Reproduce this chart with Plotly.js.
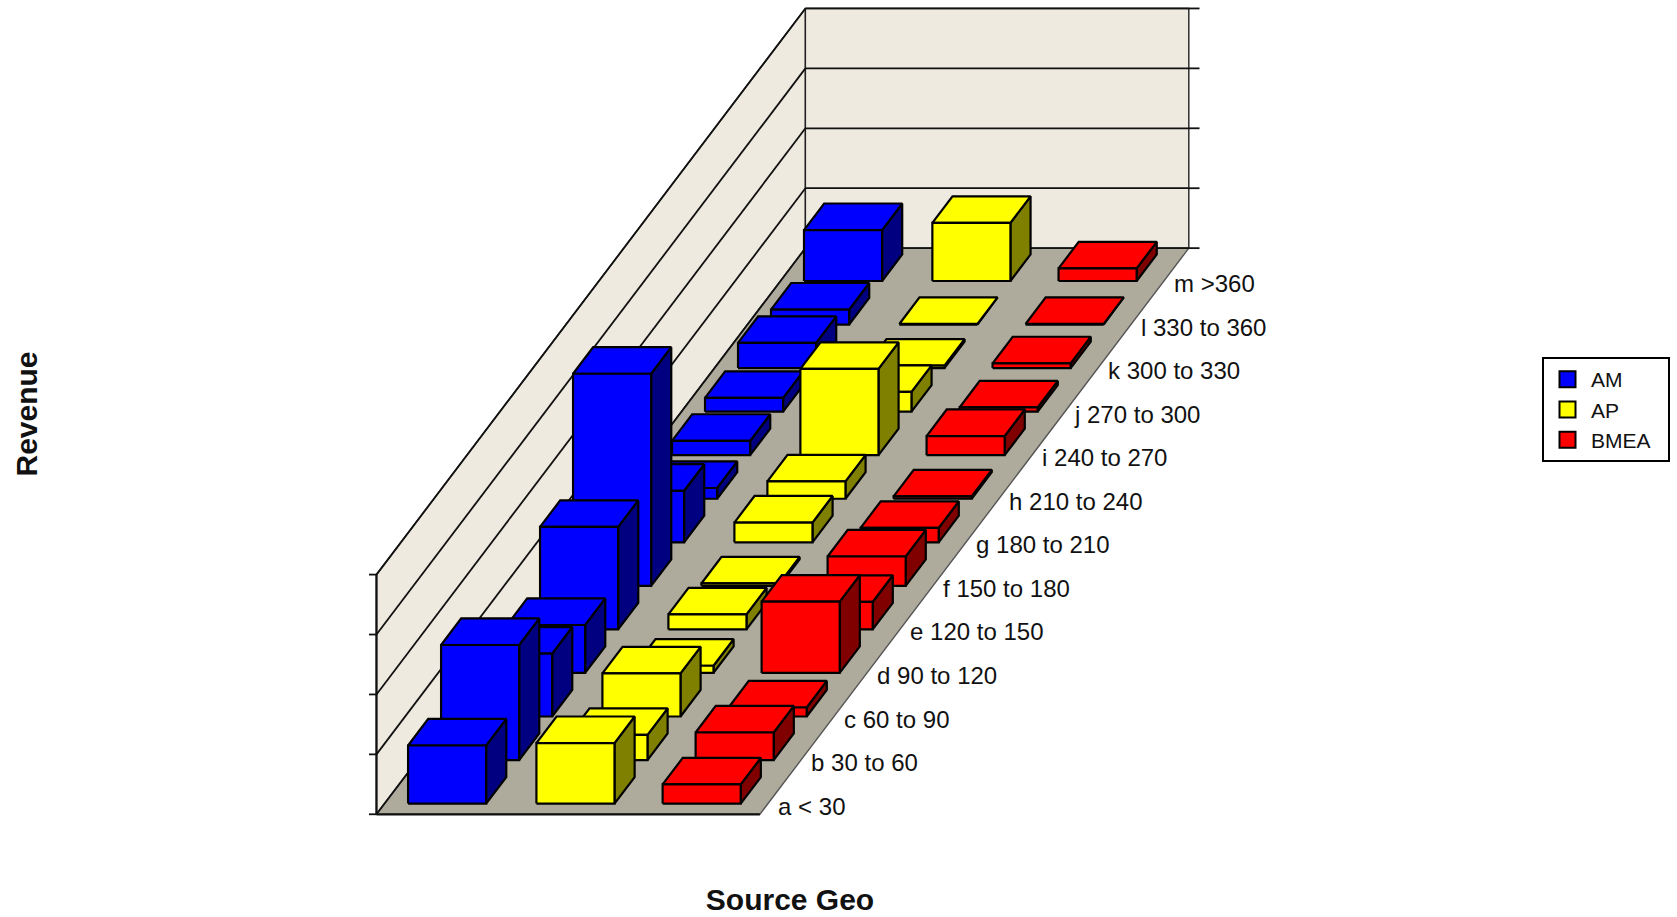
<!DOCTYPE html>
<html><head><meta charset="utf-8">
<script src="https://cdn.plot.ly/plotly-3.0.1.min.js"></script>
<style>html,body{margin:0;padding:0;background:#fff}#c{width:1677px;height:917px}</style>
</head><body><div id="c"></div><script>
const rows = ["a < 30","b 30 to 60","c 60 to 90","d 90 to 120","e 120 to 150","f 150 to 180","g 180 to 210","h 210 to 240","i 240 to 270","j 270 to 300","k 300 to 330","l 330 to 360","m >360"];
const seriesNames = ["AM","AP","BMEA"];
const AM   = [97,192,105,80,171,354,86,18,24,23,42,25,85];
const AP   = [101,42,72,12,25,4,33,29,144,33,4,1,97];
const BMEA = [32,46,15,119,46,49,24,4,32,7,8,1,21];
const gridValues = [0,100,200,300,400];
const frontColors = ["#0000ff","#ffff00","#ff0000"];
const sideColors  = ["#000080","#808000","#800000"];
const values = [AM,AP,BMEA];

// oblique projection of (across, depth-in-rows, value) to pixel-like data units
const S=1677/1568, SY=917/857;
const X0=352, Y0=761, DX=30.85, DY=40.7, HS=0.56, WIDTH=358.5, COL=[22,142,260], BW=73, D0=0.245, BD=0.61;
const P=(u,d,h)=>[(X0+u+d*DX)*S,(Y0-d*DY-h*HS)*SY];
const traces=[];
function poly(pts,fill,lw,lc){
  pts=pts.concat([pts[0]]);
  traces.push({type:'scatter',mode:'lines',x:pts.map(p=>p[0]),y:pts.map(p=>p[1]),fill:'toself',fillcolor:fill,
    line:{color:lc||'#000',width:lw===undefined?2.2:lw,shape:'linear'},hoverinfo:'skip',showlegend:false});
}
function seg(a,b,w,c){
  traces.push({type:'scatter',mode:'lines',x:[a[0],b[0]],y:[a[1],b[1]],line:{color:c||'#111',width:w||1.8},hoverinfo:'skip',showlegend:false});
}
const N=rows.length, maxGrid=gridValues[gridValues.length-1];
// walls and floor
poly([P(0,0,0),P(0,0,maxGrid),P(0,N,maxGrid),P(0,N,0)],'#eeeadf',1.4,'#222');
poly([P(0,N,0),P(0,N,maxGrid),P(WIDTH,N,maxGrid),P(WIDTH,N,0)],'#eeeadf',1.4,'#222');
poly([P(0,0,0),P(WIDTH,0,0),P(WIDTH,N,0),P(0,N,0)],'#aeaa9c',1.4,'#555');
gridValues.forEach(g=>{
  seg(P(-7,0,g),P(0,0,g));
  seg(P(0,0,g),P(0,N,g));
  seg(P(0,N,g),P(WIDTH,N,g));
  seg(P(WIDTH,N,g),P(WIDTH+10,N,g));
});
seg(P(0,0,0),P(0,0,maxGrid),2.2);
seg(P(0,0,0),P(WIDTH,0,0),2.2);
// bars, back to front
for(let r=N-1;r>=0;r--){
  for(let s=0;s<3;s++){
    const v=values[s][r],u=COL[s],d=r+D0;
    poly([P(u+BW,d,0),P(u+BW,d+BD,0),P(u+BW,d+BD,v),P(u+BW,d,v)],sideColors[s]);
    poly([P(u,d,v),P(u,d+BD,v),P(u+BW,d+BD,v),P(u+BW,d,v)],frontColors[s]);
    poly([P(u,d,0),P(u+BW,d,0),P(u+BW,d,v),P(u,d,v)],frontColors[s]);
  }
}
// row labels
const lab=rows.map((t,i)=>P(WIDTH+13,i+0.13,0));
traces.push({type:'scatter',mode:'text',x:lab.map(p=>p[0]),y:lab.map(p=>p[1]),text:rows,textposition:'middle right',
  textfont:{family:'"Liberation Sans",Arial,sans-serif',size:24,color:'#111'},hoverinfo:'skip',showlegend:false,cliponaxis:false});
// legend entries (trailing no-break spaces widen the legend box)
seriesNames.forEach((n,s)=>traces.push({type:'scatter',mode:'markers',name:n+'\u00a0\u00a0',x:[null],y:[null],
  marker:{symbol:'square',size:16,color:frontColors[s],line:{color:'#000',width:2}},hoverinfo:'skip'}));

const L=48,R=1532,T=0,B=828;
const bold='"Liberation Sans",Arial,sans-serif';
Plotly.newPlot('c',traces,{
  width:1677,height:917,showlegend:true,paper_bgcolor:'#fff',plot_bgcolor:'#fff',
  margin:{l:L,r:1677-R,t:T,b:917-B,pad:0,autoexpand:false},
  xaxis:{range:[L,R],visible:true,showgrid:false,zeroline:false,showline:false,showticklabels:false,ticks:'',
    title:{text:'<b>Source Geo</b>',font:{family:bold,size:30,color:'#111'},standoff:60}},
  yaxis:{range:[B,T],visible:true,showgrid:false,zeroline:false,showline:false,showticklabels:false,ticks:'',
    title:{text:'<b>Revenue</b>',font:{family:bold,size:30,color:'#111'},standoff:0}},
  legend:{x:(1542-L)/(R-L),xanchor:'left',y:1-357/B,yanchor:'top',bordercolor:'#000',borderwidth:2,bgcolor:'#fff',
    font:{family:bold,size:21,color:'#111'},tracegroupgap:0,itemwidth:37,traceorder:'normal'}
},{displayModeBar:false,staticPlot:true});
</script></body></html>
